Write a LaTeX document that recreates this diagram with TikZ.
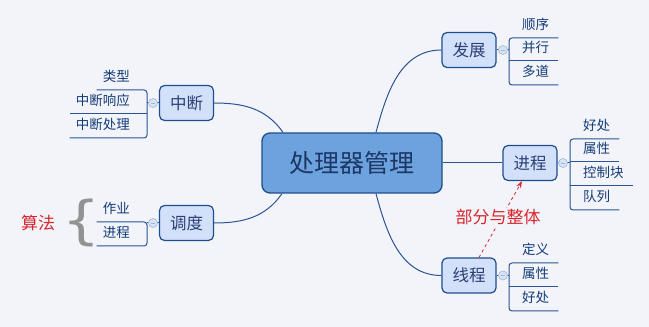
\documentclass[tikz,border=0pt]{standalone}
\usepackage{fontspec}
\setmainfont{Noto Sans CJK SC}
\newfontfamily\bracefont{DejaVu Sans}
\usetikzlibrary{arrows.meta}

\definecolor{bgcol}{HTML}{F3F4FA}
\definecolor{edgeblue}{HTML}{1D4F8D}
\definecolor{hubfill}{HTML}{6CA2DD}
\definecolor{hubtext}{HTML}{1E3766}
\definecolor{topicfill}{HTML}{D2E0FA}
\definecolor{topictext}{HTML}{2B3F75}
\definecolor{leaftext}{HTML}{123C78}
\definecolor{linkblue}{HTML}{2A5592}
\definecolor{foldedge}{HTML}{9DB6DA}
\definecolor{foldfill}{HTML}{D8E4F6}
\definecolor{notered}{HTML}{D9262C}
\definecolor{bracegray}{HTML}{929292}

\begin{document}
\begin{tikzpicture}[x=1pt,y=1pt,
    hub/.style={draw=edgeblue, line width=1.3pt, fill=hubfill, rounded corners=8pt,
      minimum width=180pt, minimum height=60pt, text=hubtext,
      font=\fontsize{25pt}{30pt}\selectfont},
    topic/.style={draw=edgeblue, line width=1.2pt, fill=topicfill, rounded corners=5pt,
      minimum width=54pt, minimum height=35pt, text=topictext,
      font=\fontsize{16.5pt}{20pt}\selectfont},
    leaf/.style={text=leaftext, font=\fontsize{13.5pt}{16pt}\selectfont,
      text height=11pt, text depth=2pt, inner ysep=6pt},
    leafr/.style={leaf, anchor=south west, inner xsep=9pt},
    leafl/.style={leaf, anchor=south east, inner xsep=6pt},
    link/.style={draw=linkblue, line width=1pt},
    fold/.style={circle, draw=foldedge, fill=foldfill, minimum size=9pt, inner sep=0pt,
      line width=0.6pt, path picture={\draw[foldedge, line width=0.6pt]
        ([xshift=-2.2pt]path picture bounding box.center) -- ([xshift=2.2pt]path picture bounding box.center);}},
    note/.style={text=notered, font=\fontsize{17pt}{20pt}\selectfont}]

    \fill[bgcol] (0,0) rectangle (649,327);

    % centre and the five topics
    \node[hub] (ctr) at (352,164) {处理器管理};
    \node[topic] (irq) at (186.5,224) {中断};
    \node[topic] (sched) at (186.5,104) {调度};
    \node[topic] (dev) at (469,277) {发展};
    \node[topic] (proc) at (530,164) {进程};
    \node[topic] (thrd) at (469,51.5) {线程};

    \draw[link] (irq.east) to[out=0, in=125] ([xshift=-69pt]ctr.north);
    \draw[link] (dev.west) to[out=180, in=75] ([xshift=24pt]ctr.north);
    \draw[link] (sched.east) to[out=0, in=235] ([xshift=-70pt]ctr.south);
    \draw[link] (thrd.west) to[out=180, in=285] ([xshift=24pt]ctr.south);
    \draw[link] (ctr.east) -- (proc.west);

    % leaves on the right
    \node[leafr] (dev1) at (509,289) {\kern4pt顺序};
    \node[leafr] (dev2) at (509,266) {\kern4pt并行};
    \node[leafr] (dev3) at (509,242) {\kern4pt多道};
    \draw[link, rounded corners=3pt] (dev1.south east) -- (dev1.south west) -- (dev3.south west) -- (dev3.south east);
    \draw[link] (dev2.south west) -- (dev2.south east);
    \draw[link] (dev.east) -- (dev.east -| dev2.south west);
    \node[fold] (devf) at (503,277) {};

    \node[leafr] (proc1) at (570,188) {\kern4pt好处};
    \node[leafr] (proc2) at (570,165) {\kern4pt属性};
    \node[leafr] (proc3) at (570,141) {\kern4pt控制块};
    \node[leafr] (proc4) at (570,117) {\kern4pt队列};
    \draw[link, rounded corners=3pt] (proc1.south east) -- (proc1.south west) -- (proc4.south west) -- (proc4.south east);
    \draw[link] (proc2.south west) -- (proc2.south east);
    \draw[link] (proc3.south west) -- (proc3.south east);
    \draw[link] (proc.east) -- (proc.east -| proc2.south west);
    \node[fold] (procf) at (563,164) {};

    \node[leafr] (thrd1) at (509,64) {\kern4pt定义};
    \node[leafr] (thrd2) at (509,40) {\kern4pt属性};
    \node[leafr] (thrd3) at (509,16) {\kern4pt好处};
    \draw[link, rounded corners=3pt] (thrd1.south east) -- (thrd1.south west) -- (thrd3.south west) -- (thrd3.south east);
    \draw[link] (thrd2.south west) -- (thrd2.south east);
    \draw[link] (thrd.east) -- (thrd.east -| thrd2.south west);
    \node[fold] (thrdf) at (503,51.5) {};

    % leaves on the left
    \node[leafl] (irq1) at (147,237) {类型\kern11pt};
    \node[leafl] (irq2) at (147,213) {中断响应\kern11pt};
    \node[leafl] (irq3) at (147,189) {中断处理\kern11pt};
    \draw[link, rounded corners=3pt] (irq1.south west) -- (irq1.south east) -- (irq3.south east) -- (irq3.south west);
    \draw[link] (irq2.south west) -- (irq2.south east);
    \draw[link] (irq.west) -- (irq.west -| irq2.south east);
    \node[fold] (irqf) at (153,224) {};

    \node[leafl] (sched1) at (147,105) {作业\kern11pt};
    \node[leafl] (sched2) at (147,81) {进程\kern11pt};
    \draw[link, rounded corners=3pt] (sched1.south west) -- (sched1.south east) -- (sched2.south east) -- (sched2.south west);
    \draw[link] (sched.west) -- (sched.west -| sched1.south east);
    \node[fold] (schedf) at (153,104) {};

    % notes
    \node[text=bracegray, font=\fontsize{52pt}{52pt}\bracefont] (brace) at (82,104) {\scalebox{1.15}[1]{\{}};
    \node[note] (algo) at (38,104) {算法};
    \draw[notered, dashed, line width=0.8pt, -{Stealth[length=7pt, width=5pt]}]
      ([xshift=10pt]thrd.north) -- ([xshift=-8pt]proc.south);
    \node[note, fill=bgcol, inner sep=1pt] (part) at (498,110) {部分与整体};
\end{tikzpicture}
\end{document}
